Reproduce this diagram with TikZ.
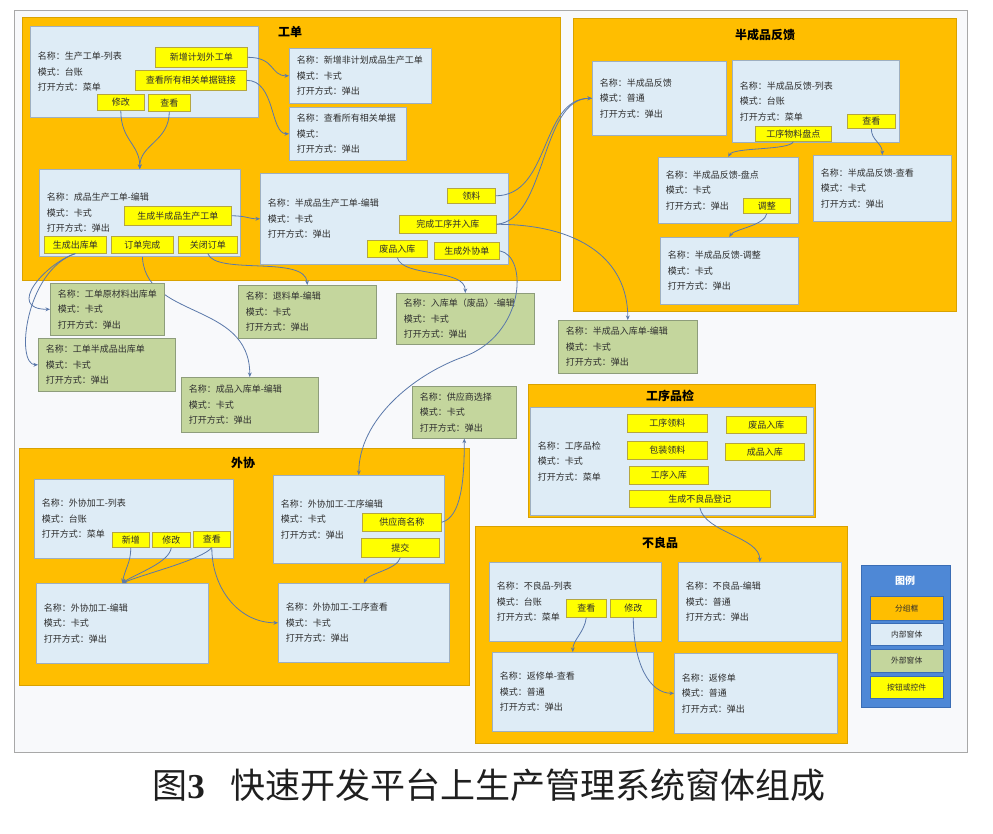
\documentclass[tikz,border=0pt]{standalone}
\usepackage{fontspec}
\setmainfont{Noto Sans CJK SC}
\newfontfamily\numfont{Liberation Serif}
\usetikzlibrary{arrows.meta}
\definecolor{grpc}{HTML}{FFBE00}
\definecolor{grpbd}{HTML}{D9A200}
\definecolor{inc}{HTML}{DEECF6}
\definecolor{inbd}{HTML}{9EAFC0}
\definecolor{exc}{HTML}{C4D69D}
\definecolor{exbd}{HTML}{8E9D7B}
\definecolor{btnc}{HTML}{FFFF00}
\definecolor{btnbd}{HTML}{B5A640}
\definecolor{connc}{HTML}{5A78AA}
\definecolor{txt}{HTML}{2E2E2E}
\definecolor{legc}{HTML}{4E88D6}
\definecolor{legbd}{HTML}{3A6DB5}
\definecolor{framebg}{HTML}{F8F9FB}
\definecolor{framebd}{HTML}{A8A8A8}
\pgfdeclarelayer{grp}
\pgfdeclarelayer{behind}
\pgfsetlayers{grp,behind,main}
\newcommand\wfont{\fontsize{9}{15.5}\selectfont}
\newcommand\gfont{\fontsize{12}{14}\selectfont\bfseries}
\tikzset{
 inwin/.style={draw=inbd, fill=inc, line width=0.6pt, inner xsep=7.5pt, inner ysep=0pt, align=left, font=\wfont, text=txt},
 exwin/.style={inwin, draw=exbd, fill=exc},
 btnbox/.style={draw=btnbd, fill=btnc, line width=0.6pt, inner sep=0pt, font=\wfont, text=txt},
 grpbox/.style={draw=grpbd, fill=grpc, line width=0.6pt, inner sep=0pt},
 gtitle/.style={font=\gfont, text=black, inner sep=1pt},
 conn/.style={draw=connc, line width=0.8pt, -{Stealth[length=4.5pt,width=3.8pt]}},
 legitem/.style={draw=legbd, line width=0.4pt, inner sep=0pt, minimum width=73pt, font=\fontsize{7.8}{9}\selectfont, text=txt},
}
% name, style, x1, y1, x2, y2, line1, line2, line3
\newcommand\win[9]{%
 \pgfmathsetmacro\wW{#5-#3-15}\pgfmathsetmacro\wH{#6-#4}%
 \node[#2, anchor=north west, text width=\wW pt, minimum height=\wH pt] (#1) at (#3,#4)
 {\mbox{#7}\\\mbox{#8}\\\mbox{#9}};}
% name, x1, y1, x2, y2, text
\newcommand\btn[6]{%
 \pgfmathsetmacro\wW{#4-#2}\pgfmathsetmacro\wH{#5-#3}%
 \node[btnbox, anchor=north west, minimum width=\wW pt, minimum height=\wH pt] (#1) at (#2,#3) {#6};}
% name, x1, y1, x2, y2
\newcommand\grp[5]{%
 \pgfmathsetmacro\wW{#4-#2}\pgfmathsetmacro\wH{#5-#3}%
 \node[grpbox, anchor=north west, minimum width=\wW pt, minimum height=\wH pt] (#1) at (#2,#3) {};}
\begin{document}
\begin{tikzpicture}[x=1pt,y=-1pt]
\useasboundingbox (0,0) rectangle (993,833);
\begin{pgfonlayer}{grp}
\node[draw=framebd, fill=framebg, line width=0.8pt, anchor=north west, minimum width=953pt, minimum height=742pt, inner sep=0pt] (frame) at (14,10) {};
\grp{gWD}{22}{17}{560}{280}
\grp{gBF}{573}{18}{956}{311}
\grp{gWX}{19}{448}{469}{685}
\grp{gPJ}{528}{384}{815}{517}
\grp{gBL}{475}{526}{847}{743}
\end{pgfonlayer}
% group titles
\node[gtitle] (tWD) at (290,32) {工单};
\node[gtitle] (tBF) at (765,35) {半成品反馈};
\node[gtitle] (tWX) at (243,463) {外协};
\node[gtitle] (tPJ) at (670,396) {工序品检};
\node[gtitle] (tBL) at (660,543) {不良品};
% ---- 工单
\win{A}{inwin}{30}{26}{258}{117}{名称：生产工单-列表}{模式：台账}{打开方式：菜单}
\btn{bA1}{155}{47}{247}{67}{新增计划外工单}
\btn{bA2}{135}{70}{246}{90}{查看所有相关单据链接}
\btn{bA3}{97}{94}{144}{110}{修改}
\btn{bA4}{148}{94}{190}{111}{查看}
\win{B}{inwin}{289}{48}{431}{103}{名称：新增非计划成品生产工单}{模式：卡式}{打开方式：弹出}
\win{C}{inwin}{289}{107}{406}{160}{名称：查看所有相关单据}{模式：}{打开方式：弹出}
\win{D}{inwin}{39}{169}{240}{256}{名称：成品生产工单-编辑}{模式：卡式}{打开方式：弹出}
\btn{bD1}{124}{206}{231}{225}{生成半成品生产工单}
\btn{bD2}{44}{236}{106}{253}{生成出库单}
\btn{bD3}{111}{236}{173}{253}{订单完成}
\btn{bD4}{178}{236}{237}{253}{关闭订单}
\win{E}{inwin}{260}{173}{508}{264}{名称：半成品生产工单-编辑}{模式：卡式}{打开方式：弹出}
\btn{bE1}{447}{188}{495}{203}{领料}
\btn{bE2}{399}{215}{496}{233}{完成工序并入库}
\btn{bE3}{367}{240}{427}{257}{废品入库}
\btn{bE4}{434}{242}{499}{259}{生成外协单}
% ---- external windows
\win{F1}{exwin}{50}{283}{164}{335}{名称：工单原材料出库单}{模式：卡式}{打开方式：弹出}
\win{F2}{exwin}{38}{338}{175}{391}{名称：工单半成品出库单}{模式：卡式}{打开方式：弹出}
\win{G}{exwin}{181}{377}{318}{432}{名称：成品入库单-编辑}{模式：卡式}{打开方式：弹出}
\win{H}{exwin}{238}{285}{376}{338}{名称：退料单-编辑}{模式：卡式}{打开方式：弹出}
\win{I}{exwin}{396}{293}{534}{344}{名称：入库单（废品）-编辑}{模式：卡式}{打开方式：弹出}
\win{L}{exwin}{558}{320}{697}{373}{名称：半成品入库单-编辑}{模式：卡式}{打开方式：弹出}
\win{Q}{exwin}{412}{386}{516}{438}{名称：供应商选择}{模式：卡式}{打开方式：弹出}
% ---- 半成品反馈
\win{K}{inwin}{592}{61}{726}{135}{名称：半成品反馈}{模式：普通}{打开方式：弹出}
\win{Kl}{inwin}{732}{60}{899}{142}{名称：半成品反馈-列表}{模式：台账}{打开方式：菜单}
\btn{bK1}{755}{126}{831}{141}{工序物料盘点}
\btn{bK2}{847}{114}{895}{128}{查看}
\win{M}{inwin}{658}{157}{798}{223}{名称：半成品反馈-盘点}{模式：卡式}{打开方式：弹出}
\btn{bM}{743}{198}{790}{213}{调整}
\win{N}{inwin}{813}{155}{951}{221}{名称：半成品反馈-查看}{模式：卡式}{打开方式：弹出}
\win{O}{inwin}{660}{237}{798}{304}{名称：半成品反馈-调整}{模式：卡式}{打开方式：弹出}
% ---- 工序品检
\win{W}{inwin}{530}{407}{813}{515}{名称：工序品检}{模式：卡式}{打开方式：菜单}
\btn{bW1}{627}{414}{707}{432}{工序领料}
\btn{bW2}{726}{416}{806}{433}{废品入库}
\btn{bW3}{627}{441}{707}{459}{包装领料}
\btn{bW4}{725}{443}{804}{460}{成品入库}
\btn{bW5}{629}{466}{708}{484}{工序入库}
\btn{bW6}{629}{490}{770}{507}{生成不良品登记}
% ---- 外协
\win{X}{inwin}{34}{479}{233}{558}{名称：外协加工-列表}{模式：台账}{打开方式：菜单}
\btn{bX1}{112}{532}{149}{547}{新增}
\btn{bX2}{152}{532}{190}{547}{修改}
\btn{bX3}{193}{531}{230}{547}{查看}
\win{S}{inwin}{36}{583}{208}{663}{名称：外协加工-编辑}{模式：卡式}{打开方式：弹出}
\win{J}{inwin}{273}{475}{444}{563}{名称：外协加工-工序编辑}{模式：卡式}{打开方式：弹出}
\btn{bJ1}{362}{513}{441}{531}{供应商名称}
\btn{bJ2}{361}{538}{439}{557}{提交}
\win{R}{inwin}{278}{583}{449}{662}{名称：外协加工-工序查看}{模式：卡式}{打开方式：弹出}
% ---- 不良品
\win{Y}{inwin}{489}{562}{661}{641}{名称：不良品-列表}{模式：台账}{打开方式：菜单}
\btn{bY1}{566}{599}{606}{617}{查看}
\btn{bY2}{610}{599}{656}{617}{修改}
\win{P}{inwin}{678}{562}{841}{641}{名称：不良品-编辑}{模式：普通}{打开方式：弹出}
\win{U}{inwin}{492}{652}{653}{731}{名称：返修单-查看}{模式：普通}{打开方式：弹出}
\win{V}{inwin}{674}{653}{837}{733}{名称：返修单}{模式：普通}{打开方式：弹出}
% ---- legend
\node[fill=legc, draw=legbd, line width=0.6pt, anchor=north west, minimum width=89pt, minimum height=142pt, inner sep=0pt] (leg) at (861,565) {};
\node[font=\fontsize{10}{12}\selectfont\bfseries, text=white] (legt) at (905,581) {图例};
\node[legitem, fill=grpc, anchor=north west, minimum height=24pt] (lg1) at (870,596) {分组框};
\node[legitem, fill=inc, anchor=north west, minimum height=22pt] (lg2) at (870,623) {内部窗体};
\node[legitem, fill=exc, anchor=north west, minimum height=23pt] (lg3) at (870,649) {外部窗体};
\node[legitem, fill=btnc, anchor=north west, minimum height=22pt] (lg4) at (870,676) {按钮或控件};
% ---- caption
\node[font=\fontsize{35}{40}\selectfont, text=black!88] (cap) at (489,785) {图{\numfont\bfseries 3}\hspace{26pt}快速开发平台上生产管理系统窗体组成};
% ---- connectors
\coordinate (via1) at (463,357);
\draw[conn] (bA1.east) .. controls +(28,0) and +(-19,0) .. (B.west);
\draw[conn] (bA2.east) .. controls +(29,0) and +(-19,0) .. (C.west);
\draw[conn] (bA3.south) .. controls +(0,30) and +(0,-25) .. (D.north);
\draw[conn] (bA4.south) .. controls +(0,30) and +(0,-25) .. (D.north);
\draw[conn] (bD1.east) .. controls +(15,0) and +(-12,0) .. (E.west);
\draw[conn] (bD2.south) .. controls +(-30,10) and +(-45,0) .. (F1.west);
\draw[conn] (bD2.south) .. controls +(-50,17) and +(-23,0) .. (F2.west);
\begin{pgfonlayer}{behind}
\draw[conn] (bD3.south) .. controls +(0,67) and +(0,-77) .. (G.north);
\end{pgfonlayer}
\draw[conn] (bD4.south) .. controls +(8,22) and +(-2,-30) .. (H.north);
\draw[conn] (bE3.south) .. controls +(5,20) and +(0,-25) .. (I.north);
\draw[conn] (bE4.east) .. controls +(29,5) and +(62,-22) .. (via1) .. controls +(-50,18) and +(0,-55) .. (J.north);
\draw[conn] (bE1.east) .. controls +(55,0) and +(-52,0) .. (K.west);
\draw[conn] (bE2.east) .. controls +(50,-4) and +(-52,0) .. (K.west);
\draw[conn] (bE2.east) .. controls +(84,0) and +(0,-60) .. (L.north);
\draw[conn] (bK1.south) .. controls +(-3,9) and +(5,-10) .. (M.north);
\draw[conn] (bK2.south) .. controls +(0,12) and +(0,-12) .. (N.north);
\draw[conn] (bM.south) .. controls +(-2,12) and +(5,-8) .. (O.north);
\draw[conn] (bW6.south) .. controls +(5,25) and +(0,-25) .. (P.north);
\draw[conn] (bJ1.east) .. controls +(20,-5) and +(0,40) .. (Q.south);
\draw[conn] (bJ2.south) .. controls +(-3,12) and +(5,-10) .. (R.north);
\draw[conn] (bX1.south) .. controls +(0,15) and +(3,-15) .. (S.north);
\draw[conn] (bX2.south) .. controls +(-2,15) and +(15,-10) .. (S.north);
\draw[conn] (bX3.south) .. controls +(-10,12) and +(25,-10) .. (S.north);
\draw[conn] (bX3.south) .. controls +(0,40) and +(-40,0) .. (R.west);
\draw[conn] (bY1.south) .. controls +(-2,15) and +(0,-12) .. (U.north);
\draw[conn] (bY2.south) .. controls +(0,45) and +(-25,0) .. (V.west);
\end{tikzpicture}
\end{document}
